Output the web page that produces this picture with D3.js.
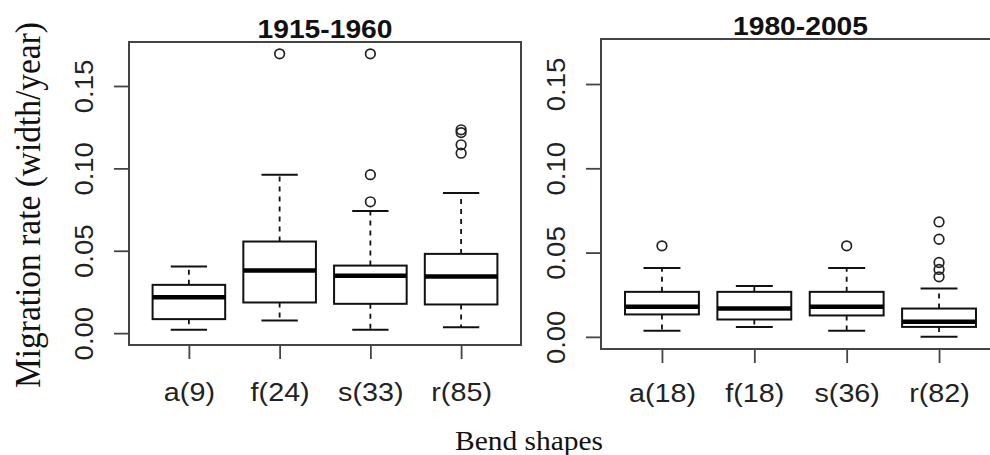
<!DOCTYPE html>
<html lang="en">
<head>
<meta charset="UTF-8">
<title>boxplot</title>
<script src="https://cdn.jsdelivr.net/npm/d3@7"></script>
<style>
  body { margin: 0; background: #fff; }
  svg { display: block; }
</style>
</head>
<body>
<script>
// bend shape categories and summary stats
let shapes = ['a', 'f', 's', 'r'];
let titles = ['1915-1960', '1980-2005'];
let counts1 = [9, 24, 33, 85];
let counts2 = [18, 18, 36, 82];

let lo1 = [0.002, 0.0077, 0.002, 0.0036];
let q1a = [0.0085, 0.0186, 0.0178, 0.0174];
let med1 = [0.0218, 0.038, 0.0348, 0.0344];
let q3a = [0.0293, 0.0556, 0.041, 0.0481];
let hi1 = [0.0404, 0.0962, 0.0742, 0.085];
let out1 = [[], [0.1695], [0.1695, 0.0962, 0.0797], [0.1234, 0.1217, 0.1143, 0.1092]];

let lo2 = [0.0036, 0.0059, 0.0036, 0.0];
let q1b = [0.0133, 0.0103, 0.0127, 0.0059];
let med2 = [0.0178, 0.0168, 0.0178, 0.0089];
let q3b = [0.0267, 0.0267, 0.0267, 0.0168];
let hi2 = [0.0409, 0.0302, 0.0409, 0.0287];
let out2 = [[0.054], [], [0.054], [0.0682, 0.0579, 0.0441, 0.04, 0.0356]];

let yTicks = [0, 0.05, 0.1, 0.15];
let yLim = [-0.0072, 0.1767];

let width = 990;
let height = 455;

let svg = d3.select('body').append('svg')
  .attr('width', width)
  .attr('height', height);

let panels = [
  { title: titles[0], counts: counts1, lo: lo1, q1: q1a, med: med1, q3: q3a, hi: hi1, out: out1,
    left: 129, right: 521, top: 42, bottom: 345, titleY: 38, labelY: 401 },
  { title: titles[1], counts: counts2, lo: lo2, q1: q1b, med: med2, q3: q3b, hi: hi2, out: out2,
    left: 601, right: 1000, top: 39, bottom: 349, titleY: 35, labelY: 402 }
];

panels.forEach(drawPanel);

function drawPanel(p) {
  let w = p.right - p.left;
  // R pads the x range by 4% each side: 0.5..4.5 -> frame
  let x = d3.scaleLinear()
    .domain([0.5 - 0.16, 4.5 + 0.16])
    .range([p.left, p.right]);
  let y = d3.scaleLinear()
    .domain(yLim)
    .range([p.bottom, p.top]);

  let g = svg.append('g');
  let boxW = (x(2) - x(1)) * 0.8;

  let data = shapes.map(function (s, i) {
    return { i: i + 1, lo: p.lo[i], q1: p.q1[i], med: p.med[i], q3: p.q3[i], hi: p.hi[i], out: p.out[i] };
  });

  let box = g.selectAll('g.box')
    .data(data)
    .enter()
    .append('g')
    .attr('class', 'box');

  // whiskers
  box.append('line')
    .attr('x1', function (d) { return x(d.i); })
    .attr('x2', function (d) { return x(d.i); })
    .attr('y1', function (d) { return y(d.q3); })
    .attr('y2', function (d) { return y(d.hi); })
    .attr('stroke', '#111').attr('stroke-width', 1.8).attr('stroke-dasharray', '5,5');
  box.append('line')
    .attr('x1', function (d) { return x(d.i); })
    .attr('x2', function (d) { return x(d.i); })
    .attr('y1', function (d) { return y(d.q1); })
    .attr('y2', function (d) { return y(d.lo); })
    .attr('stroke', '#111').attr('stroke-width', 1.8).attr('stroke-dasharray', '5,5');

  // staples
  ['lo', 'hi'].forEach(function (k) {
    box.append('line')
      .attr('x1', function (d) { return x(d.i) - boxW / 4; })
      .attr('x2', function (d) { return x(d.i) + boxW / 4; })
      .attr('y1', function (d) { return y(d[k]); })
      .attr('y2', function (d) { return y(d[k]); })
      .attr('stroke', '#111').attr('stroke-width', 2);
  });

  box.append('rect')
    .attr('x', function (d) { return x(d.i) - boxW / 2; })
    .attr('y', function (d) { return y(d.q3); })
    .attr('width', boxW)
    .attr('height', function (d) { return y(d.q1) - y(d.q3); })
    .attr('fill', '#fff')
    .attr('stroke', '#111')
    .attr('stroke-width', 2);

  box.append('line')
    .attr('x1', function (d) { return x(d.i) - boxW / 2; })
    .attr('x2', function (d) { return x(d.i) + boxW / 2; })
    .attr('y1', function (d) { return y(d.med); })
    .attr('y2', function (d) { return y(d.med); })
    .attr('stroke', '#000').attr('stroke-width', 4.5);

  box.selectAll('circle')
    .data(function (d) { return d.out.map(function (v) { return { i: d.i, v: v }; }); })
    .enter()
    .append('circle')
    .attr('cx', function (d) { return x(d.i); })
    .attr('cy', function (d) { return y(d.v); })
    .attr('r', 4.8)
    .attr('fill', 'none')
    .attr('stroke', '#222')
    .attr('stroke-width', 1.7);

  // frame
  g.append('rect')
    .attr('x', p.left)
    .attr('y', p.top)
    .attr('width', w)
    .attr('height', p.bottom - p.top)
    .attr('fill', 'none')
    .attr('stroke', '#444')
    .attr('stroke-width', 2);

  // y axis
  let yAxis = d3.axisLeft(y).tickValues(yTicks).tickSize(15).tickFormat(d3.format('.2f'));
  let ya = g.append('g')
    .attr('transform', 'translate(' + p.left + ',0)')
    .call(yAxis);
  ya.select('.domain').remove();
  ya.selectAll('line').attr('stroke', '#444').attr('stroke-width', 1.8);
  ya.selectAll('text')
    .attr('x', null).attr('dy', null)
    .attr('transform', 'translate(-36,0) rotate(-90) scale(1.1,1)')
    .attr('text-anchor', 'middle')
    .attr('fill', '#222')
    .style('font-family', '"Liberation Sans", Arial, sans-serif')
    .style('font-size', '25px');

  // x axis
  let xAxis = d3.axisBottom(x).tickValues([1, 2, 3, 4]).tickSize(14)
    .tickFormat(function (d) { return shapes[d - 1] + '(' + p.counts[d - 1] + ')'; });
  let xa = g.append('g')
    .attr('transform', 'translate(0,' + p.bottom + ')')
    .call(xAxis);
  xa.select('.domain').remove();
  xa.selectAll('line').attr('stroke', '#444').attr('stroke-width', 1.8);
  xa.selectAll('text')
    .attr('y', null).attr('dy', null)
    .attr('transform', 'translate(0,' + (p.labelY - p.bottom) + ') scale(1.15,1)')
    .attr('fill', '#222')
    .style('font-family', '"Liberation Sans", Arial, sans-serif')
    .style('font-size', '25px');

  g.append('text')
    .attr('transform', 'translate(' + x(2.5) + ',' + p.titleY + ') scale(1.13,1)')
    .attr('text-anchor', 'middle')
    .attr('fill', '#111')
    .style('font-family', '"Liberation Sans", Arial, sans-serif')
    .style('font-weight', 'bold')
    .style('font-size', '25px')
    .text(p.title);
}

svg.append('text')
  .attr('transform', 'translate(40,205) rotate(-90)')
  .attr('text-anchor', 'middle')
  .attr('textLength', 366)
  .attr('lengthAdjust', 'spacingAndGlyphs')
  .attr('fill', '#111')
  .style('font-family', '"Liberation Serif", "Times New Roman", serif')
  .style('font-size', '35px')
  .text('Migration rate (width/year)');

svg.append('text')
  .attr('x', 529)
  .attr('y', 450)
  .attr('text-anchor', 'middle')
  .attr('textLength', 148)
  .attr('lengthAdjust', 'spacingAndGlyphs')
  .attr('fill', '#111')
  .style('font-family', '"Liberation Serif", "Times New Roman", serif')
  .style('font-size', '28px')
  .text('Bend shapes');
</script>
</body>
</html>
